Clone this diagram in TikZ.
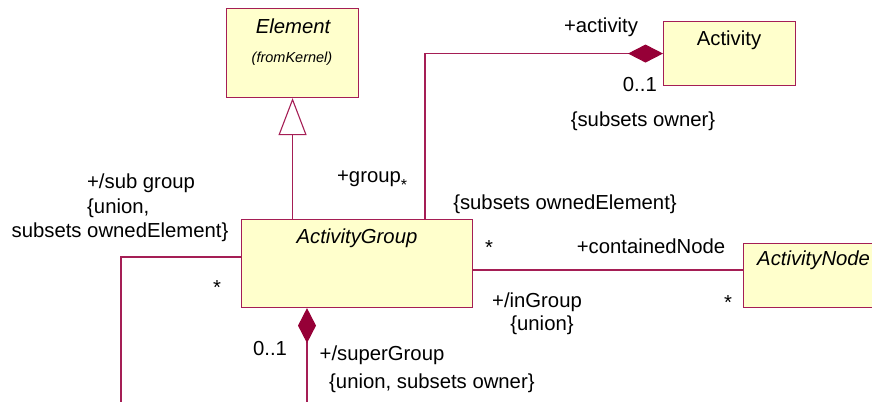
\documentclass[tikz,border=0pt]{standalone}
\usepackage{fontspec}
\setmainfont{Liberation Sans}
\usetikzlibrary{arrows.meta}
\definecolor{umlline}{RGB}{165,30,85}
\definecolor{umlfill}{RGB}{255,255,204}
\definecolor{umldia}{RGB}{150,0,55}
\newcommand{\fsn}{\fontsize{20.3}{23}\selectfont}
\begin{document}
\begin{tikzpicture}[x=1pt,y=-1pt,
  box/.style={draw=umlline, fill=umlfill, line width=1.1pt, inner sep=0pt, anchor=north west},
  txt/.style={anchor=base, inner sep=0pt, font=\fsn},
  itxt/.style={anchor=base, inner sep=0pt, font=\fsn\itshape},
  conn/.style={draw=umlline, line width=1.1pt},
  comp/.style={arrows={Diamond[length=35pt,width=18pt,color=umldia,fill=umldia]-}},
  gen/.style={arrows={-Triangle[length=37pt,width=28pt,color=umlline,fill=white]}}]
\useasboundingbox (0,0) rectangle (872,402);
\clip (0,0) rectangle (872,402);
% boxes
\node[box, minimum width=132pt, minimum height=89pt] (el) at (226,8) {};
\node[box, minimum width=132pt, minimum height=64pt] (act) at (663,21) {};
\node[box, minimum width=231pt, minimum height=88pt] (ag) at (241,219) {};
\node[box, minimum width=160pt, minimum height=64pt] (an) at (743,243) {};
% box texts
\node[itxt] (elname) at (293,33) {Element};
\node[anchor=base, inner sep=0pt, font=\fontsize{14.5}{16}\selectfont\itshape] (elpkg) at (292,62) {(fromKernel)};
\node[txt] (actname) at (729,45) {Activity};
\node[itxt] (agname) at (357,243) {ActivityGroup};
\node[itxt, anchor=base west] (anname) at (757,265) {ActivityNode};
% coordinates
\coordinate (gx) at (425,0);
\coordinate (cy) at (0,270);
\coordinate (sgy) at (0,257);
\coordinate (sgend) at (121,402);
\coordinate (spend) at (307,402);
% connectors
\draw[conn, gen] (el.south |- ag.north) -- (el.south);
\draw[conn, comp] (act.west) -- (gx |- act.west) -- (gx |- ag.north);
\draw[conn] (ag.east |- cy) -- (an.west |- cy);
\draw[conn] (ag.west |- sgy) -- (sgend |- sgy) -- (sgend);
\draw[conn, comp] (ag.south -| spend) -- (spend);
% labels
\node[txt] (actrole) at (601,32) {+activity};
\node[txt, anchor=base east] (actmult) at (657,91) {0..1};
\node[txt] (actcons) at (643,126) {\{subsets owner\}};
\node[txt] (grprole) at (369,182) {+group};
\node[anchor=base, inner sep=0pt, font=\fontsize{16}{18}\selectfont] (grpmult) at (404,190) {*};
\node[txt] (grpcons) at (565,209) {\{subsets ownedElement\}};
\node[txt] (subrole) at (141,188) {+/sub group};
\node[txt, anchor=base west] (subcons1) at (87,213) {\{union,};
\node[txt] (subcons2) at (120,237) {subsets ownedElement\}};
\node[txt] (submult) at (217,294) {*};
\node[txt] (cnmult) at (489,254) {*};
\node[txt] (cnrole) at (651,253) {+containedNode};
\node[txt] (igrole) at (537,307) {+/inGroup};
\node[txt] (igcons) at (542,330) {\{union\}};
\node[txt] (igmult) at (728,309) {*};
\node[txt] (supmult) at (270,355) {0..1};
\node[txt] (suprole) at (382,360) {+/superGroup};
\node[txt, anchor=base west] (supcons) at (329,388) {\{union, subsets owner\}};
\end{tikzpicture}
\end{document}
